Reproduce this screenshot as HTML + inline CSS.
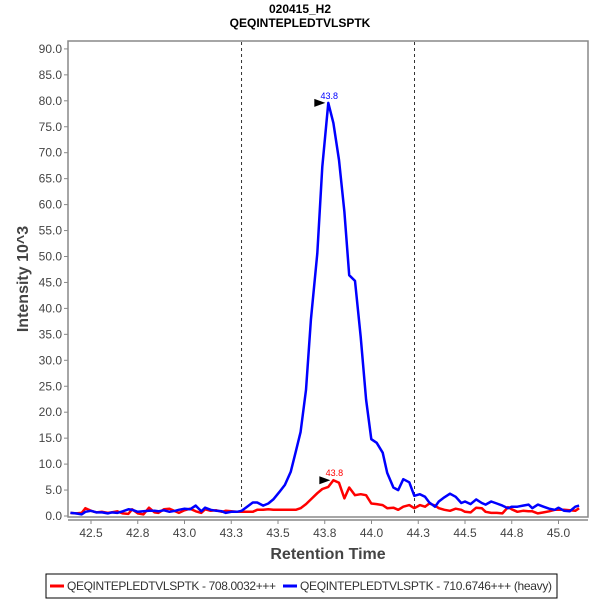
<!DOCTYPE html>
<html><head><meta charset="utf-8"><style>
body{margin:0;background:#fff;width:600px;height:600px;overflow:hidden;font-family:"Liberation Sans",sans-serif}
svg text{font-family:"Liberation Sans",sans-serif}
</style></head><body>
<svg id="chart" width="600" height="600" xmlns="http://www.w3.org/2000/svg">
<text x="300" y="13" text-anchor="middle" font-size="12" font-weight="bold" fill="#000">020415_H2</text>
<text x="300" y="27" text-anchor="middle" font-size="12" font-weight="bold" fill="#000">QEQINTEPLEDTVLSPTK</text>
<rect x="68" y="41" width="520" height="476" fill="none" stroke="#888" stroke-width="1.5"/>
<line x1="68" y1="520" x2="588" y2="520" stroke="#888" stroke-width="1.5"/>
<g id="yticks"></g><g id="xticks"></g>
<text transform="translate(28,279) rotate(-90)" text-anchor="middle" font-size="16" font-weight="bold" fill="#444">Intensity 10^3</text>
<text x="328" y="559" text-anchor="middle" font-size="16" font-weight="bold" fill="#444">Retention Time</text>
<g id="marks"></g>
<g>
<rect x="46" y="574" width="511" height="24" fill="#fff" stroke="#000" stroke-width="1"/>
<line x1="50" y1="586" x2="64" y2="586" stroke="#f00" stroke-width="3"/>
<text x="67" y="590" font-size="12" textLength="209" fill="#333">QEQINTEPLEDTVLSPTK - 708.0032+++</text>
<line x1="283" y1="586" x2="297" y2="586" stroke="#00f" stroke-width="3"/>
<text x="300" y="590" font-size="12" textLength="252" fill="#333">QEQINTEPLEDTVLSPTK - 710.6746+++ (heavy)</text>
</g>
</svg>
<script>
const times=[42.39,42.42,42.45,42.47,42.50,42.53,42.56,42.59,42.61,42.64,42.67,42.70,42.72,42.75,42.78,42.81,42.84,42.86,42.89,42.92,42.95,42.97,43.00,43.03,43.06,43.09,43.11,43.14,43.17,43.20,43.22,43.25,43.28,
43.306,43.365,43.389,43.421,43.448,43.475,43.507,43.537,43.568,43.595,43.621,43.650,43.676,43.710,43.737,43.769,43.796,43.826,43.855,43.881,43.912,43.942,43.971,43.999,44.028,44.060,44.084,44.117,44.143,44.170,44.202,44.229,44.259,44.286,44.309,
44.34,44.36,44.39,44.42,44.45,44.48,44.50,44.53,44.56,44.59,44.61,44.64,44.67,44.70,44.73,44.75,44.78,44.81,44.84,44.86,44.89,44.92,44.95,44.98,45.00,45.03,45.06,45.09,45.11];
const heavyValues=[0.6,0.5,0.3,0.8,1.0,0.7,0.7,0.5,0.7,0.6,0.9,1.3,1.2,0.8,0.9,1.0,1.0,0.9,1.1,0.8,1.0,1.2,1.4,1.3,2.0,0.9,1.6,1.2,1.0,0.9,0.6,0.8,0.8,
1.0,2.6,2.6,2.0,2.4,3.2,4.6,6.0,8.5,12.4,16.2,24.3,37.8,50.6,67.3,79.6,75.7,68.6,58.6,46.4,45.3,34.5,22.4,14.8,14.1,12.2,8.3,5.5,5.0,7.1,6.5,3.9,4.2,3.7,2.6,
1.8,2.8,3.6,4.3,3.7,2.5,2.8,2.3,3.2,2.5,2.2,2.8,2.4,2.0,1.5,1.8,1.8,2.0,2.2,1.5,2.2,1.8,1.4,1.2,1.6,1.0,0.9,1.8,2.0];
const lightValues=[0.6,0.5,0.6,1.5,1.0,0.7,0.8,0.6,0.7,0.9,0.5,0.4,1.3,0.5,0.3,1.6,0.7,0.6,1.3,1.4,0.9,0.6,1.1,1.4,0.9,0.6,1.3,1.0,1.1,0.8,1.0,0.9,0.8,
0.8,0.8,1.2,1.2,1.3,1.2,1.2,1.2,1.2,1.2,1.5,2.3,3.2,4.4,5.2,5.6,6.9,6.4,3.4,5.5,4.0,4.2,4.0,2.4,2.3,2.1,1.5,1.6,1.2,1.8,2.1,1.5,2.1,1.8,2.4,
2.0,1.5,1.2,1.0,1.4,1.2,0.8,0.7,1.6,1.5,0.8,0.6,0.6,0.5,1.7,1.3,0.8,1.0,0.9,0.9,0.5,0.7,0.9,1.2,1.2,1.2,1.1,1.0,1.5];
const yTicks=[0,5,10,15,20,25,30,35,40,45,50,55,60,65,70,75,80,85,90];
const xTicks=[42.5,42.75,43.0,43.25,43.5,43.75,44.0,44.25,44.5,44.75,45.0];
const xTickLabels=["42.5","42.8","43.0","43.3","43.5","43.8","44.0","44.3","44.5","44.8","45.0"];
const boundaries=[43.305,44.23];
const peakLabels=["43.8","43.8"];
const NS="http://www.w3.org/2000/svg";
function X(t){return 91+(t-42.5)*187;}
function Y(v){return 516-v*5.19;}
function mk(tag,attrs,parent){const e=document.createElementNS(NS,tag);for(const k in attrs)e.setAttribute(k,attrs[k]);parent.appendChild(e);return e;}
const yg=document.getElementById('yticks'),xg=document.getElementById('xticks'),mg=document.getElementById('marks');
yTicks.forEach(v=>{
 const l=mk('line',{x1:64,x2:68,y1:Y(v),y2:Y(v),stroke:'#888'},yg);
 
 
 const t=mk('text',{x:62,y:Y(v)+4,'text-anchor':'end','font-size':12,fill:'#444'},yg);
 
 
 t.textContent=v.toFixed(1);
});
xTicks.forEach((v,i)=>{
 const l=mk('line',{x1:X(v),x2:X(v),y1:520,y2:524,stroke:'#888'},xg);
 
 
 const t=mk('text',{x:X(v),y:537,'text-anchor':'middle','font-size':12,fill:'#444'},xg);
 
 
 t.textContent=xTickLabels[i];
});
boundaries.forEach(b=>{
 const l=mk('line',{x1:X(b),x2:X(b),y1:42,y2:516,stroke:'#333','stroke-dasharray':'3,3'},mg);
 
 
});
const clip=mk('clipPath',{id:'pc'},mg);mk('rect',{x:68,y:41,width:520,height:476},clip);
function series(vals,color,name,lab){
 const pts=times.map((t,i)=>X(t).toFixed(1)+','+Y(vals[i]).toFixed(1)).join(' ');
 const p=mk('polyline',{points:pts,fill:'none',stroke:color,'stroke-width':2.5,'stroke-linejoin':'round','clip-path':'url(#pc)'},mg);
 
 
 let mi=0;vals.forEach((v,i)=>{if(v>vals[mi])mi=i;});
 const px=X(times[mi]),py=Y(vals[mi]);
 const a=mk('polygon',{points:`${px-14},${py-4} ${px-3},${py} ${px-14},${py+4}`,fill:'#000'},mg);
 
 
 const t=mk('text',{x:px+1,y:py-4,'text-anchor':'middle','font-size':9,fill:color},mg);
 
 
 t.textContent=lab;
}
series(lightValues,'#ff0000','light-series',peakLabels[0]);
series(heavyValues,'#0000ff','heavy-series',peakLabels[1]);
</script>
</body></html>
